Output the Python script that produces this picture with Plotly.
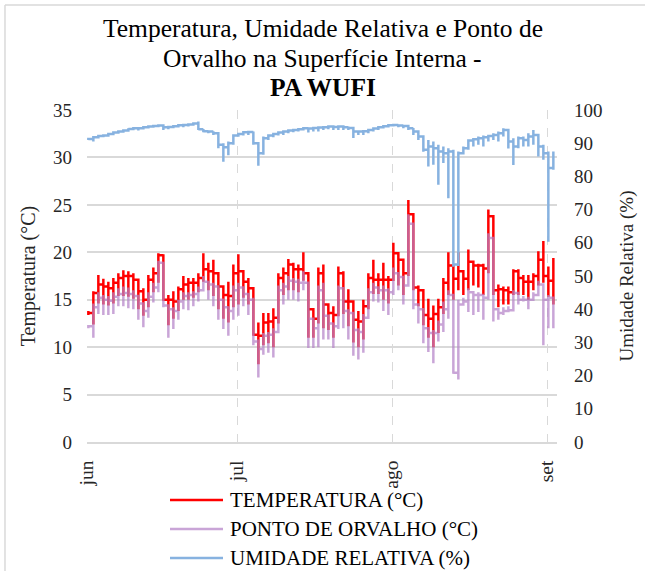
import plotly.graph_objects as go
import pandas as pd

# ---- data (one entry per day, 1 Jun .. 2 Sep) ----
start_date = "2021-06-01"
sample_hour = 6.5

t_max = [13.8,15.9,17.6,17.2,16.9,17.3,17.8,18.1,18.0,17.8,16.8,16.2,17.6,18.4,19.9,19.8,15.5,15.9,16.4,17.5,
         17.3,17.3,17.8,19.9,18.9,19.2,17.6,16.4,16.9,18.7,19.8,17.8,17.3,16.1,12.6,13.6,13.6,14.1,17.8,18.4,
         19.3,18.9,18.7,20.0,17.8,14.0,18.4,18.7,14.5,14.3,18.5,18.0,16.1,14.3,13.8,15.0,17.8,19.2,17.8,18.9,
         17.5,21.0,19.8,18.2,25.5,24.0,16.5,16.0,15.1,14.4,15.1,17.3,20.0,17.9,20.0,17.9,20.3,19.0,18.8,18.8,
         24.5,23.8,16.6,16.4,16.4,18.2,18.2,17.6,17.6,17.8,20.1,21.2,18.5,19.4]
t_min = [13.4,12.4,14.6,14.5,14.4,14.6,15.4,15.4,15.3,15.1,14.0,13.3,14.2,15.8,16.8,14.9,12.3,13.0,13.8,15.0,
         15.0,15.2,15.8,16.9,16.0,15.4,14.0,13.0,12.6,14.2,14.5,15.2,14.5,11.2,8.2,10.2,10.4,10.0,12.5,15.5,
         16.0,16.0,15.8,17.0,11.0,11.0,12.5,12.0,11.8,11.0,13.4,13.5,12.2,10.5,10.0,10.8,14.0,15.6,15.6,15.0,
         14.6,17.0,16.5,15.5,17.5,16.0,14.3,12.3,11.0,10.0,11.5,13.5,15.5,15.0,16.0,15.5,16.0,16.5,16.3,15.5,
         17.8,15.5,14.2,14.5,14.5,15.5,15.5,15.5,15.0,16.0,16.5,16.8,15.3,14.5]
t_end = [13.6,15.7,16.6,16.4,16.2,16.8,17.3,17.5,17.5,17.1,15.9,15.0,17.1,17.8,19.7,15.0,15.0,14.8,16.1,16.6,
         16.8,16.8,17.3,18.2,18.0,17.8,16.4,15.5,15.4,17.8,18.0,16.9,16.2,11.3,11.2,12.6,12.7,13.1,17.3,17.8,
         18.7,18.2,18.2,17.8,14.0,13.0,17.8,14.5,13.6,13.4,17.8,14.8,14.8,12.9,12.7,14.3,17.3,17.1,17.1,17.1,
         17.1,19.9,19.2,17.8,24.0,16.3,16.0,13.4,13.0,13.5,14.2,16.8,18.6,17.2,18.0,17.2,19.0,18.6,18.6,18.3,
         23.8,16.0,16.1,16.0,15.8,18.0,17.3,16.9,16.9,17.5,19.2,17.5,17.0,16.5]

d_max = [12.3,14.6,15.8,15.5,15.4,15.8,16.2,16.4,16.3,16.0,15.0,14.4,15.8,16.8,19.1,19.0,14.3,14.2,15.0,15.8,
         15.8,15.9,16.4,17.5,17.0,16.8,15.5,14.6,14.3,16.5,16.8,16.0,15.5,15.2,10.8,11.5,11.6,12.0,16.5,16.8,
         17.5,17.3,17.2,18.0,16.5,12.5,16.5,16.8,13.0,12.6,16.5,16.0,14.0,12.5,12.0,13.5,16.2,16.8,16.3,16.5,
         16.2,18.4,17.8,16.8,24.0,23.0,14.5,14.0,12.0,11.8,12.8,14.8,16.0,15.5,15.0,15.2,16.2,15.8,15.8,15.5,
         22.0,21.5,14.0,14.2,14.3,16.0,15.5,15.4,15.3,15.8,17.0,16.5,15.5,15.0]
d_min = [12.0,11.0,13.5,13.4,13.4,13.5,14.3,14.3,14.1,14.0,12.9,12.1,13.1,14.7,15.8,14.2,11.0,11.9,12.9,14.0,
         13.9,14.3,14.8,15.9,15.0,14.3,12.9,11.9,11.2,12.9,13.3,14.3,13.4,10.2,6.8,9.2,9.4,8.9,11.5,14.5,
         15.0,15.0,14.8,16.0,9.9,9.9,10.0,10.8,10.8,9.9,11.9,12.0,10.8,9.1,8.7,9.4,13.3,14.8,14.7,13.8,
         13.4,15.5,16.0,14.5,16.5,14.0,12.5,10.4,9.5,8.3,10.6,11.6,13.0,7.2,6.6,14.5,13.7,13.4,13.7,12.9,
         15.0,12.7,12.9,13.4,13.7,14.2,14.5,14.8,14.0,15.2,15.5,10.2,12.0,12.0]
d_end = [12.2,14.2,15.2,15.0,14.9,15.3,15.6,15.7,15.6,15.4,14.6,13.8,15.3,16.3,18.9,14.4,14.0,13.8,14.8,15.4,
         15.5,15.6,16.0,16.9,16.6,16.4,15.0,14.2,13.8,16.0,16.3,15.6,15.0,10.6,9.8,11.2,11.3,11.6,16.0,16.4,
         17.0,16.9,16.8,16.8,13.0,12.0,16.0,13.3,12.5,12.2,16.2,13.8,13.6,11.8,11.6,13.1,15.8,16.3,16.0,16.0,
         15.8,17.8,17.4,16.5,23.0,14.5,14.0,12.0,11.5,11.5,12.4,14.0,15.5,7.3,14.5,14.8,15.8,15.5,15.5,15.2,
         21.5,14.0,13.6,13.8,13.9,15.7,15.0,15.0,15.0,15.5,16.6,15.0,15.2,14.2]

rh_max = [91.5,92.0,92.3,92.5,93.0,93.3,93.7,94.0,94.5,94.7,94.8,95.0,95.3,95.3,95.4,95.2,95.0,95.3,95.5,95.6,
          95.8,96.0,96.5,94.3,93.8,93.6,93.0,90.0,90.5,92.5,93.0,93.5,93.5,93.5,90.0,92.0,92.5,93.0,93.3,93.6,
          94.0,94.2,94.4,94.7,94.6,94.8,94.8,95.0,95.2,95.0,95.2,95.0,95.0,94.6,93.8,93.8,94.2,94.6,95.0,95.3,
          95.5,95.8,95.6,95.5,95.2,94.6,93.5,92.0,91.0,90.5,89.5,89.0,88.5,88.0,87.5,89.0,91.0,91.5,92.0,92.3,
          92.5,93.0,93.5,94.5,93.0,91.5,92.0,92.0,93.0,94.0,92.0,89.5,87.5,87.5]
rh_min = [91.0,90.5,91.5,91.8,92.0,92.5,93.0,93.3,93.8,94.0,93.8,94.2,94.5,94.7,94.8,94.0,94.2,94.5,94.8,94.8,
          95.0,95.3,94.0,93.3,93.0,92.5,88.5,84.4,86.4,89.5,92.0,92.3,92.5,89.5,83.2,86.5,91.0,91.8,92.3,92.5,
          93.0,93.3,93.5,93.8,93.2,93.5,93.5,94.0,94.2,94.0,94.0,94.0,94.0,91.6,92.5,92.5,93.0,93.5,94.0,94.5,
          94.8,95.0,94.8,94.5,94.0,92.5,91.0,87.4,83.0,83.5,77.5,84.0,73.4,52.8,53.0,87.5,88.0,89.0,89.5,89.0,
          90.5,91.0,90.5,92.0,88.4,83.4,88.5,89.0,89.0,89.5,86.0,85.0,60.3,82.0]
rh_end = [91.3,91.8,92.2,92.3,92.8,93.2,93.5,93.8,94.3,94.5,94.5,94.8,95.0,95.2,95.3,94.8,94.9,95.1,95.4,95.5,
          95.6,95.9,94.2,93.6,93.5,93.0,89.5,88.8,90.0,92.3,92.8,93.3,93.4,90.0,87.0,91.5,92.3,92.8,93.2,93.5,
          93.8,94.0,94.2,94.5,94.4,94.6,94.7,94.8,95.0,94.9,95.0,94.8,94.6,93.5,93.5,93.6,94.0,94.4,94.8,95.1,
          95.4,95.5,95.3,95.2,94.5,93.5,92.0,88.0,89.0,88.5,87.5,87.0,87.5,53.5,87.0,88.5,90.8,91.2,91.5,91.8,
          92.2,92.5,93.0,94.0,90.5,89.0,91.5,91.0,92.0,92.5,89.0,87.0,82.5,86.5]

month_ticks = ["2021-06-01", "2021-07-01", "2021-08-01", "2021-09-01"]
month_labels = ["jun", "jul", "ago", "set"]
x_range = ["2021-06-01", "2021-09-03"]

names = ["TEMPERATURA (°C)", "PONTO DE ORVALHO (°C)", "UMIDADE RELATIVA (%)"]
colors = ["#FF0000", "rgba(180,130,200,0.72)", "rgb(135,178,224)"]
title_lines = ["Temperatura, Umidade Relativa e Ponto de", "Orvalho na Superfície Interna -", "<b>PA WUFI</b>"]


def day_path(vmax, vmin, vend):
    """All hourly values of a day share the same x (date axis): each day is a
    vertical stroke from the previous day's end through max/min to its end."""
    xs, ys = [], []
    base = pd.Timestamp(start_date)
    for d in range(len(vmax)):
        t = base + pd.Timedelta(days=d, hours=sample_hour)
        prev = vend[d - 1] if d > 0 else vmax[0]
        xs += [t, t, t, t]
        ys += [prev, vmax[d], vmin[d], vend[d]]
    return xs, ys


FONT = "Liberation Serif"
TXT = "#262626"

fig = go.Figure()
x1, y1 = day_path(t_max, t_min, t_end)
fig.add_trace(go.Scatter(x=x1, y=y1, mode="lines", name=names[0],
                         line=dict(color=colors[0], width=2.5)))
x2, y2 = day_path(d_max, d_min, d_end)
fig.add_trace(go.Scatter(x=x2, y=y2, mode="lines", name=names[1],
                         line=dict(color=colors[1], width=2.5)))
x3, y3 = day_path(rh_max, rh_min, rh_end)
fig.add_trace(go.Scatter(x=x3, y=y3, mode="lines", name=names[2], yaxis="y2",
                         line=dict(color=colors[2], width=2.5)))

fig.update_layout(
    width=645, height=571, autosize=False,
    margin=dict(l=87, r=88, t=110, b=129, autoexpand=False),
    paper_bgcolor="white", plot_bgcolor="white",
    font=dict(family=FONT, color=TXT, size=19),
    showlegend=False,
    xaxis=dict(type="date", range=x_range, tickmode="array", tickvals=month_ticks,
               ticktext=month_labels, tickangle=-90, showgrid=True, gridcolor="#d9d9d9",
               griddash="dash", gridwidth=1, showline=True, linecolor="#d9d9d9", linewidth=1.5,
               ticks="", zeroline=False, ticklabelstandoff=9, automargin=False,
               tickfont=dict(family=FONT, size=19.5, color=TXT)),
    yaxis=dict(range=[0, 35], dtick=5, showgrid=True, gridcolor="#d9d9d9", gridwidth=1.5,
               zeroline=False, ticks="", showline=False, ticklabelstandoff=14, automargin=False,
               title=dict(text="Temperatura (°C)", standoff=12, font=dict(family=FONT, size=20, color=TXT)),
               tickfont=dict(family=FONT, size=19, color=TXT)),
    yaxis2=dict(range=[0, 100], dtick=10, overlaying="y", side="right", showgrid=False,
                zeroline=False, ticks="", showline=False, ticklabelstandoff=16, automargin=False,
                title=dict(text="Umidade Relativa (%)", standoff=18, font=dict(family=FONT, size=19, color=TXT)),
                tickfont=dict(family=FONT, size=19, color=TXT)),
)

# title, three centred lines
for txt, py in zip(title_lines, [28, 58, 87]):
    fig.add_annotation(text=txt, xref="paper", yref="paper", x=(322.5 - 87) / 470, y=(442 - py) / 332,
                       xanchor="center", yanchor="middle", showarrow=False,
                       font=dict(family=FONT, size=25.5, color="#000000"))

# legend drawn below the plot: line sample + label for each series
for name, col, py in zip(names, colors, [500, 529, 558]):
    yp = (442 - py) / 332
    fig.add_shape(type="line", xref="paper", yref="paper", x0=(170 - 87) / 470, x1=(223 - 87) / 470,
                  y0=yp, y1=yp, line=dict(color=col, width=2.5))
    fig.add_annotation(text=name, xref="paper", yref="paper", x=(228 - 87) / 470, y=yp,
                       xanchor="left", yanchor="middle", showarrow=False,
                       font=dict(family=FONT, size=21, color="#000000"))

# chart-area border (left and top edges)
fig.add_shape(type="line", xref="paper", yref="paper", x0=-0.1745, x1=-0.1745, y0=-0.40, y1=1.316,
              line=dict(color="#d9d9d9", width=1.5))
fig.add_shape(type="line", xref="paper", yref="paper", x0=-0.1745, x1=1.19, y0=1.316, y1=1.316,
              line=dict(color="#d9d9d9", width=1.5))

fig.write_html("out.html")
